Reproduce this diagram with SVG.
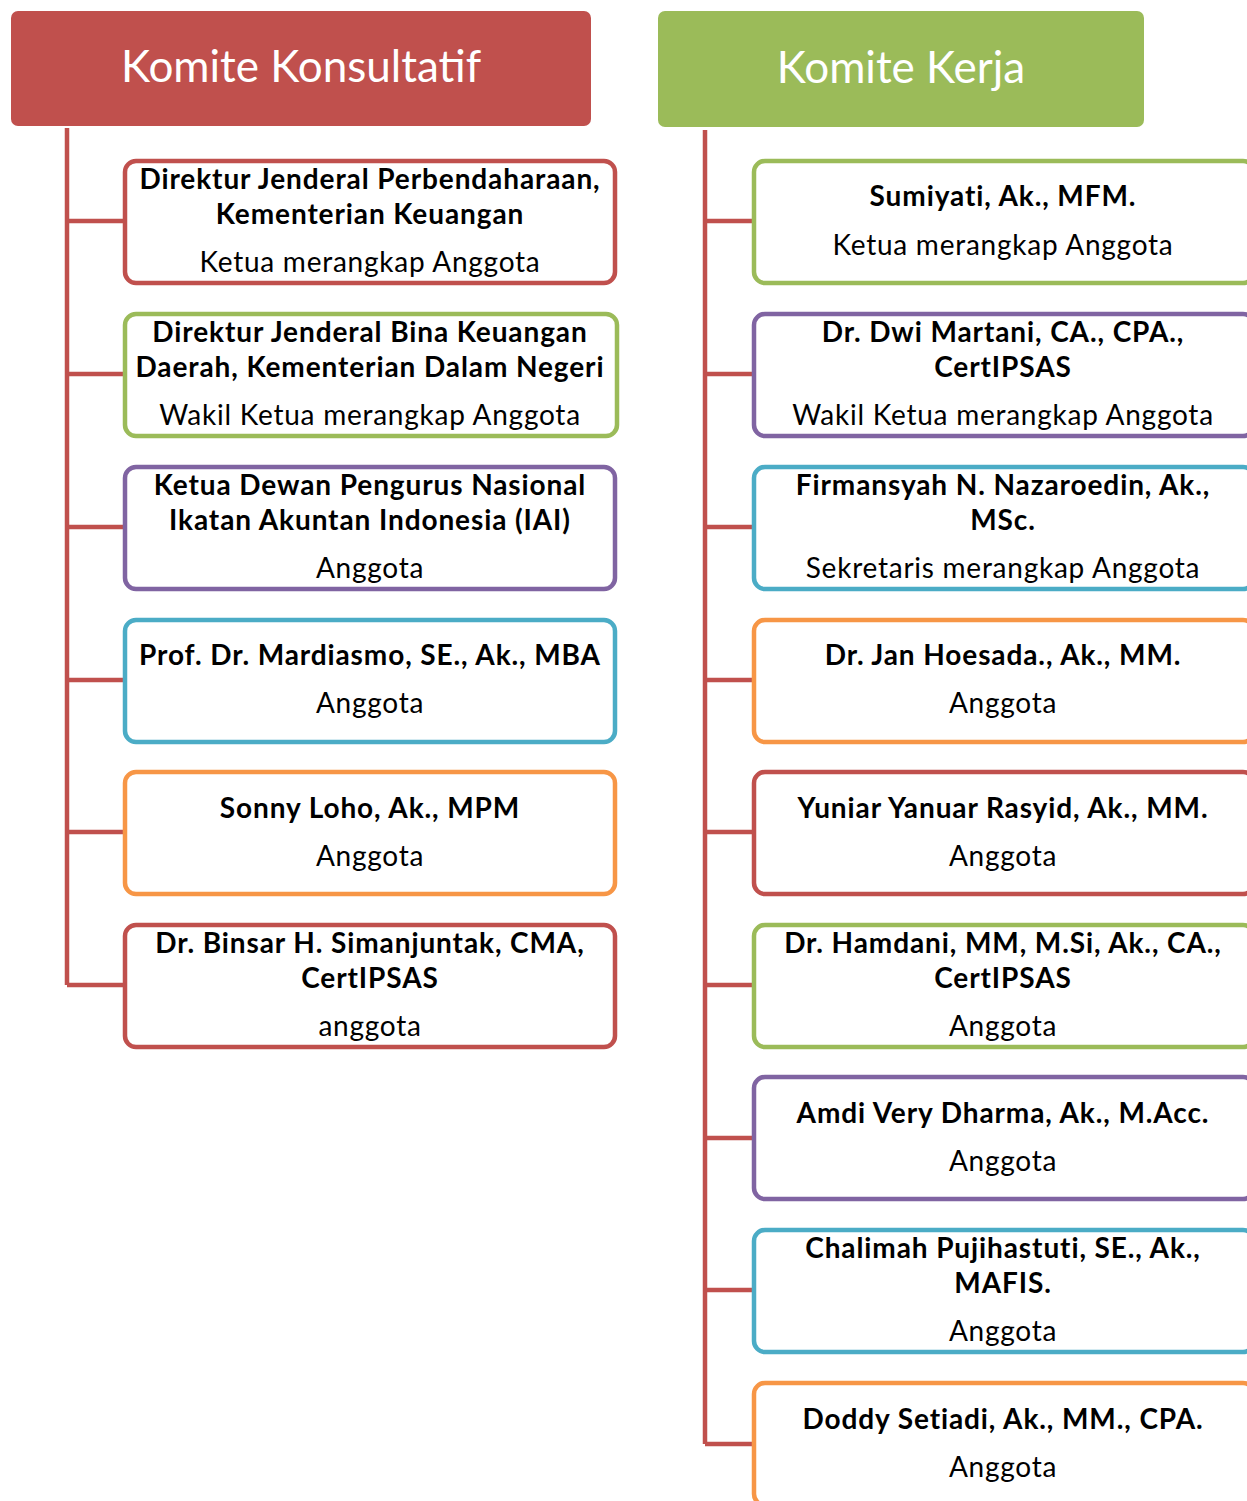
<svg xmlns="http://www.w3.org/2000/svg" width="1247" height="1501" viewBox="0 0 1247 1501">
<style>
.hdr{font-family:Lato,"Open Sans",sans-serif;font-size:44px;fill:#fff;text-anchor:middle}
.nm{font-family:Lato,"Open Sans",sans-serif;font-size:28px;letter-spacing:0.9px;font-weight:bold;fill:#000;text-anchor:middle}
.rl{font-family:Lato,"Open Sans",sans-serif;font-size:28px;letter-spacing:0.75px;fill:#000;text-anchor:middle}
.box{fill:#fff;stroke-width:4.5}
.red{stroke:#C0504D}.grn{stroke:#9BBB59}.pur{stroke:#8064A2}.blu{stroke:#4BACC6}.org{stroke:#F79646}
.con{fill:none;stroke:#C0504D;stroke-width:4.5}
</style>
<rect width="1247" height="1501" fill="#fff"/>
<g id="connectors">
<path class="con" d="M67,128 V985 M67,221 H124 M67,374 H124 M67,527 H124 M67,680 H124 M67,832 H124 M67,985 H124"/>
<path class="con" d="M705,130 V1444 M705,221 H753 M705,374 H753 M705,527 H753 M705,680 H753 M705,832 H753 M705,985 H753 M705,1138 H753 M705,1290 H753 M705,1444 H753"/>
</g>
<g id="komite-konsultatif"><rect x="11" y="11" width="580" height="115" rx="7" fill="#C0504D"/><text class="hdr" x="301" y="82">Komite Konsultatif</text></g>
<g id="komite-kerja"><rect x="658" y="11" width="486" height="116" rx="7" fill="#9BBB59"/><text class="hdr" x="901" y="83">Komite Kerja</text></g>

<g id="l1"><rect class="box red" x="125" y="161" width="490" height="122" rx="11"/><text class="nm" x="370" y="189">Direktur Jenderal Perbendaharaan,</text><text class="nm" x="370" y="224">Kementerian Keuangan</text><text class="rl" x="370" y="272">Ketua merangkap Anggota</text></g>
<g id="l2"><rect class="box grn" x="125" y="314" width="492" height="122" rx="11"/><text class="nm" x="370" y="342">Direktur Jenderal Bina Keuangan</text><text class="nm" x="370" y="377">Daerah, Kementerian Dalam Negeri</text><text class="rl" x="370" y="425">Wakil Ketua merangkap Anggota</text></g>
<g id="l3"><rect class="box pur" x="125" y="467" width="490" height="122" rx="11"/><text class="nm" x="370" y="495">Ketua Dewan Pengurus Nasional</text><text class="nm" x="370" y="530">Ikatan Akuntan Indonesia (IAI)</text><text class="rl" x="370" y="578">Anggota</text></g>
<g id="l4"><rect class="box blu" x="125" y="620" width="490" height="122" rx="11"/><text class="nm" x="370" y="665">Prof. Dr. Mardiasmo, SE., Ak., MBA</text><text class="rl" x="370" y="713">Anggota</text></g>
<g id="l5"><rect class="box org" x="125" y="772" width="490" height="122" rx="11"/><text class="nm" x="370" y="818">Sonny Loho, Ak., MPM</text><text class="rl" x="370" y="866">Anggota</text></g>
<g id="l6"><rect class="box red" x="125" y="925" width="490" height="122" rx="11"/><text class="nm" x="370" y="953">Dr. Binsar H. Simanjuntak, CMA,</text><text class="nm" x="370" y="988">CertIPSAS</text><text class="rl" x="370" y="1036">anggota</text></g>

<g id="r1"><rect class="box grn" x="754" y="161" width="500" height="122" rx="11"/><text class="nm" x="1003" y="206">Sumiyati, Ak., MFM.</text><text class="rl" x="1003" y="255">Ketua merangkap Anggota</text></g>
<g id="r2"><rect class="box pur" x="754" y="314" width="500" height="122" rx="11"/><text class="nm" x="1003" y="342">Dr. Dwi Martani, CA., CPA.,</text><text class="nm" x="1003" y="377">CertIPSAS</text><text class="rl" x="1003" y="425">Wakil Ketua merangkap Anggota</text></g>
<g id="r3"><rect class="box blu" x="754" y="467" width="500" height="122" rx="11"/><text class="nm" x="1003" y="495">Firmansyah N. Nazaroedin, Ak.,</text><text class="nm" x="1003" y="530">MSc.</text><text class="rl" x="1003" y="578">Sekretaris merangkap Anggota</text></g>
<g id="r4"><rect class="box org" x="754" y="620" width="500" height="122" rx="11"/><text class="nm" x="1003" y="665">Dr. Jan Hoesada., Ak., MM.</text><text class="rl" x="1003" y="713">Anggota</text></g>
<g id="r5"><rect class="box red" x="754" y="772" width="500" height="122" rx="11"/><text class="nm" x="1003" y="818">Yuniar Yanuar Rasyid, Ak., MM.</text><text class="rl" x="1003" y="866">Anggota</text></g>
<g id="r6"><rect class="box grn" x="754" y="925" width="500" height="122" rx="11"/><text class="nm" x="1003" y="953">Dr. Hamdani, MM, M.Si, Ak., CA.,</text><text class="nm" x="1003" y="988">CertIPSAS</text><text class="rl" x="1003" y="1036">Anggota</text></g>
<g id="r7"><rect class="box pur" x="754" y="1077" width="500" height="122" rx="11"/><text class="nm" x="1003" y="1123">Amdi Very Dharma, Ak., M.Acc.</text><text class="rl" x="1003" y="1171">Anggota</text></g>
<g id="r8"><rect class="box blu" x="754" y="1230" width="500" height="122" rx="11"/><text class="nm" x="1003" y="1258">Chalimah Pujihastuti, SE., Ak.,</text><text class="nm" x="1003" y="1293">MAFIS.</text><text class="rl" x="1003" y="1341">Anggota</text></g>
<g id="r9"><rect class="box org" x="754" y="1383" width="500" height="122" rx="11"/><text class="nm" x="1003" y="1429">Doddy Setiadi, Ak., MM., CPA.</text><text class="rl" x="1003" y="1477">Anggota</text></g>
</svg>
